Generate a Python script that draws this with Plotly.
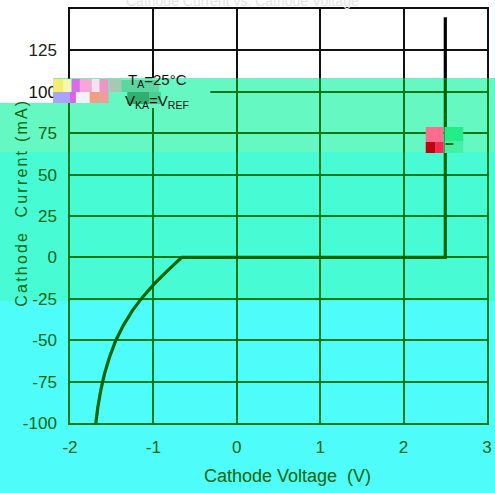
import plotly.graph_objects as go

# Cathode current vs cathode voltage (shunt regulator, TA = 25 °C, VKA = VREF)
cathode_voltage = [-1.69, -1.665, -1.63, -1.585, -1.525, -1.45, -1.36, -1.25, -1.13, -0.99, -0.83,
                   -0.66, 2.50, 2.50]
cathode_current = [-100, -90, -80, -70, -60, -50, -41, -32, -24, -16, -8,
                   0, 0, 145]

x_ticks = [-2, -1, 0, 1, 2, 3]
x_tick_labels = ["-2", "-1", "0", "1", "2", "3"]
y_ticks = [-100, -75, -50, -25, 0, 25, 50, 75, 100]
y_tick_labels = ["-100", "-75", "-50", "-25", "0", "25", "50", "75",
                 "<span style='color:#111111'>100</span>"]
y_ticks_top = [125]
y_tick_labels_top = ["125"]

X_RANGE = [-2, 3]
Y_MIN, Y_SPLIT, Y_MAX = -100, 108.3, 150
split = (Y_SPLIT - Y_MIN) / (Y_MAX - Y_MIN)

W, H = 495, 493
L, R, T, B = 70, 3, 9, 70
PW, PH = W - L - R, H - T - B

GREEN_LINE = "#006400"
GRID_GREEN = "#0b7a12"
TEXT_GREEN = "#0a640a"
FONT = "Liberation Sans Narrow, Arial Narrow, Liberation Sans, Arial, sans-serif"


def px_x(px):
    return (px - L) / PW


def px_y(py):
    return (H - B - py) / PH


def rect(x0, y0, x1, y1, color, layer="below"):
    return dict(type="rect", xref="paper", yref="paper",
                x0=px_x(x0), x1=px_x(x1), y0=px_y(y1), y1=px_y(y0),
                fillcolor=color, line=dict(width=0), layer=layer)


fig = go.Figure()
fig.add_trace(go.Scatter(x=cathode_voltage, y=cathode_current, mode="lines",
                         line=dict(color=GREEN_LINE, width=3.2),
                         xaxis="x", yaxis="y", showlegend=False, hoverinfo="skip"))
fig.add_trace(go.Scatter(x=cathode_voltage, y=cathode_current, mode="lines",
                         line=dict(color="#000000", width=3.2),
                         xaxis="x2", yaxis="y2", showlegend=False, hoverinfo="skip"))

shapes = [
    # background bands
    rect(-5, -5, 500, 78, "#ffffff"),
    rect(-5, 78, 500, 152, "#66f8c2"),
    rect(-5, 78, 53, 103, "#ffffff"),
    rect(-5, 152, 500, 301, "#47fcd4"),
    # label box behind the test conditions
    rect(70, 78, 212, 108, "#66f8c2", "above"),
    # colour blotches around the test conditions
    rect(53, 79, 63, 92, "#f6ee6a", "above"),
    rect(63, 79, 71, 92, "#fbf7b0", "above"),
    rect(72, 79, 80, 93, "#e068f0", "above"),
    rect(80, 79, 92, 92, "#f8a6d6", "above"),
    rect(92, 79, 100, 92, "#fbe0ee", "above"),
    rect(100, 79, 109, 92, "#f094c4", "above"),
    rect(53, 92, 70, 103, "#a8a4f8", "above"),
    rect(70, 92, 76, 103, "#e060e8", "above"),
    rect(76, 92, 90, 103, "#f4f0f8", "above"),
    rect(90, 92, 100, 103, "#f0a080", "above"),
    rect(100, 92, 109, 103, "#f29a9c", "above"),
    rect(110, 79, 122, 92, "#a8c8b4", "above"),
    rect(122, 80, 160, 92, "#5ad6a0", "above"),
    rect(128, 92, 150, 104, "#2fb070", "above"),
    rect(150, 92, 162, 104, "#48d090", "above"),
    # colour blotches at the right
    rect(430, 127, 448, 142, "#ff6c8e", "above"),
    rect(430, 142, 440, 153, "#c40010", "above"),
    rect(440, 142, 448, 153, "#ff2452", "above"),
    rect(449, 127, 468, 141, "#22ee88", "above"),
    rect(449, 141, 468, 153, "#44f0a4", "above"),
    rect(450, 143, 458, 145, "#0a6a0a", "above"),
]

annotations = [
    dict(text="Cathode Current vs. Cathode Voltage", xref="paper", yref="paper",
         x=px_x(245), y=px_y(1), xanchor="center", yanchor="middle", showarrow=False,
         font=dict(family=FONT, size=14, color="#e4e4e4")),
    dict(text="T<sub>A</sub>=25°C", xref="paper", yref="paper",
         x=px_x(127), y=px_y(80), xanchor="left", yanchor="middle", showarrow=False,
         font=dict(family=FONT, size=15, color="#111111")),
    dict(text="V<sub>KA</sub>=V<sub>REF</sub>", xref="paper", yref="paper",
         x=px_x(124), y=px_y(101), xanchor="left", yanchor="middle", showarrow=False,
         font=dict(family=FONT, size=15, color="#111111")),
    dict(text="Cathode Voltage  (V)", xref="paper", yref="paper",
         x=px_x(290), y=px_y(476), xanchor="center", yanchor="middle", showarrow=False,
         font=dict(family=FONT, size=18, color=TEXT_GREEN)),
    dict(text="Cathode  Current (mA)", xref="paper", yref="paper", textangle=-90,
         x=px_x(20), y=px_y(203), xanchor="center", yanchor="middle", showarrow=False,
         font=dict(family="Liberation Sans, Arial, sans-serif", size=16, color=TEXT_GREEN)),
]

tick_font = dict(family=FONT, size=17, color=TEXT_GREEN)

fig.update_layout(
    width=W, height=H,
    margin=dict(l=L, r=R, t=T, b=B),
    paper_bgcolor="#4efdfa",
    plot_bgcolor="rgba(0,0,0,0)",
    shapes=shapes,
    annotations=annotations,
    xaxis=dict(domain=[0, 1], range=X_RANGE, anchor="y",
               tickmode="array", tickvals=x_ticks, ticktext=x_tick_labels,
               showgrid=True, gridcolor=GRID_GREEN, gridwidth=1.5,
               showline=True, linecolor=GRID_GREEN, linewidth=1.5,
               zeroline=False, ticks="", ticklabelstandoff=8, tickfont=tick_font),
    yaxis=dict(domain=[0, split], range=[Y_MIN, Y_SPLIT], anchor="x",
               tickmode="array", tickvals=y_ticks, ticktext=y_tick_labels,
               showgrid=True, gridcolor=GRID_GREEN, gridwidth=1.5,
               showline=True, mirror=True, linecolor=GRID_GREEN, linewidth=1.5,
               zeroline=False, ticks="", ticklabelstandoff=8, tickfont=tick_font),
    xaxis2=dict(domain=[0, 1], range=X_RANGE, anchor="y2", side="top",
                tickmode="array", tickvals=x_ticks, showticklabels=False,
                showgrid=True, gridcolor="#111111", gridwidth=1.5,
                showline=True, linecolor="#111111", linewidth=1.5,
                zeroline=False, ticks=""),
    yaxis2=dict(domain=[split, 1], range=[Y_SPLIT, Y_MAX], anchor="x2",
                tickmode="array", tickvals=y_ticks_top, ticktext=y_tick_labels_top,
                showgrid=True, gridcolor="#111111", gridwidth=1.5,
                showline=True, mirror=True, linecolor="#111111", linewidth=1.5,
                zeroline=False, ticks="", ticklabelstandoff=8,
                tickfont=dict(family=FONT, size=17, color="#222222")),
)

spacing_js = """
document.querySelectorAll('.annotation-text').forEach(function (t) {
  if (t.textContent.indexOf('Cathode  Current') === 0) { t.style.letterSpacing = '2.2px'; }
});
"""

fig.write_html("out.html", post_script=spacing_js)
